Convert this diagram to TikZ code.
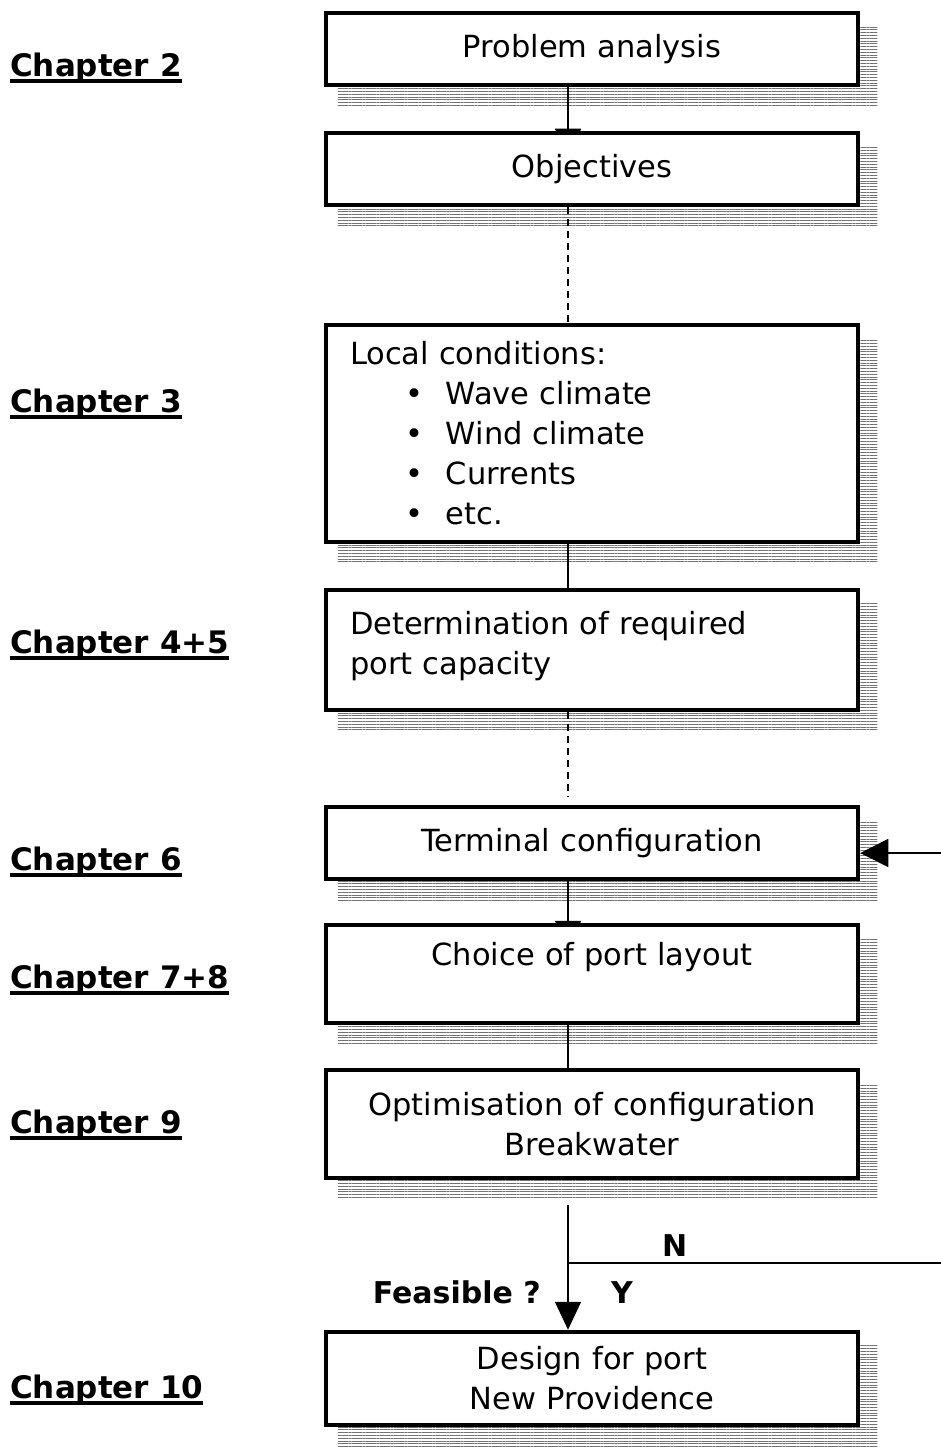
\documentclass[tikz,border=0pt]{standalone}
\usepackage{fontspec}
\setmainfont{DejaVu Sans}
\usetikzlibrary{arrows.meta,backgrounds,patterns.meta}

\tikzset{
  stagebox/.style={draw, line width=4.5pt, fill=white, minimum width=532pt,
    text width=484pt, inner xsep=24pt, inner ysep=0pt, align=center,
    font=\fontsize{30.5}{40}\selectfont},
  chapterlabel/.style={anchor=base west, inner sep=0pt,
    font=\fontsize{31}{40}\selectfont\bfseries},
  answerlabel/.style={anchor=base west, inner sep=0pt,
    font=\fontsize{30}{40}\selectfont\bfseries},
  flow/.style={line width=1.6pt},
  shadowhatch/.style={pattern={Lines[angle=0,distance=2.8pt,line width=0.9pt]},
    pattern color=black!55},
}
\newcommand\chapul[1]{\setbox0\hbox{#1}\rlap{\rule[-6.5pt]{\wd0}{4pt}}\box0}
\newcommand\boxshadow[1]{%
  \fill[shadowhatch] ([yshift=-16pt]#1.north east) rectangle ([xshift=17pt,yshift=-19pt]#1.south east);
  \fill[shadowhatch] ([xshift=14pt]#1.south west) rectangle ([yshift=-19pt]#1.south east);
}

\begin{document}
\begin{tikzpicture}[x=1pt,y=-1pt]
   \useasboundingbox (0,0) rectangle (941,1455);

% stages
   \node[stagebox, minimum height=72pt] (b1) at (592,49) {Problem analysis};
   \node[stagebox, minimum height=72pt] (b2) at (592,169) {Objectives};
   \node[stagebox, minimum height=217pt, align=left] (b3) at (592,433.5) {Local conditions:\\
      \hspace*{55pt}\makebox[41pt][l]{\textbullet}Wave climate\\
      \hspace*{55pt}\makebox[41pt][l]{\textbullet}Wind climate\\
      \hspace*{55pt}\makebox[41pt][l]{\textbullet}Currents\\
      \hspace*{55pt}\makebox[41pt][l]{\textbullet}etc.};
   \node[stagebox, minimum height=120pt, align=left] (b4) at (592,650) {Determination of required\\port capacity\\[-26pt]\mbox{}};
   \node[stagebox, minimum height=72pt] (b5) at (592,843) {Terminal configuration};
   \node[stagebox, minimum height=98pt] (b6) at (592,974) {Choice of port layout\\\mbox{}};
   \node[stagebox, minimum height=108pt] (b7) at (592,1124) {Optimisation of configuration\\Breakwater};
   \node[stagebox, minimum height=93pt] (b8) at (592,1378.5) {Design for port\\New Providence};

% chapters
   \node[chapterlabel] (c2) at (10,77) {\chapul{Chapter 2}};
   \node[chapterlabel] (c3) at (10,412) {\chapul{Chapter 3}};
   \node[chapterlabel] (c45) at (10,653) {\chapul{Chapter 4+5}};
   \node[chapterlabel] (c6) at (10,870) {\chapul{Chapter 6}};
   \node[chapterlabel] (c78) at (10,988) {\chapul{Chapter 7+8}};
   \node[chapterlabel] (c9) at (10,1133) {\chapul{Chapter 9}};
   \node[chapterlabel] (c10) at (10,1398) {\chapul{Chapter 10}};

% decision
   \coordinate (fs) at (568,1205);
   \coordinate (nb) at (568,1263);
   \coordinate (ne) at (941,1263);
   \coordinate (fe) at (941,853);
   \node[answerlabel, anchor=base east] (feas) at (541,1303) {Feasible ?};
   \node[answerlabel] (yes) at (611,1303) {Y};
   \node[answerlabel] (no) at (662,1256) {N};

   \begin{scope}[on background layer]
      \boxshadow{b1} \boxshadow{b2} \boxshadow{b3} \boxshadow{b4}
      \boxshadow{b5} \boxshadow{b6} \boxshadow{b7} \boxshadow{b8}
      \draw[flow, -{Triangle[length=28pt,width=26pt]}]
          ([xshift=-24pt]b1.south) -- ([xshift=-24pt,yshift=-26pt]b2.north);
      \draw[flow, -{Triangle[length=28pt,width=26pt]}]
          ([xshift=-24pt]b5.south) -- ([xshift=-24pt,yshift=-26pt]b6.north);
      \draw[flow, dash pattern=on 7pt off 5pt] ([xshift=-24pt]b2.south) -- ([xshift=-24pt]b3.north);
      \draw[flow] ([xshift=-24pt]b3.south) -- ([xshift=-24pt]b4.north);
      \draw[flow, dash pattern=on 7pt off 5pt] ([xshift=-24pt]b4.south) -- ([xshift=-24pt,yshift=8pt]b5.north);
      \draw[flow] ([xshift=-24pt]b6.south) -- ([xshift=-24pt]b7.north);
   \end{scope}

   \draw[flow, -{Triangle[length=28pt,width=26pt]}] (fs) -- ([xshift=-24pt]b8.north);
   \draw[flow] (nb) -- (ne);
   \draw[flow, -{Triangle[length=28pt,width=28pt]}] (fe) -- (b5.east |- fe);

\end{tikzpicture}
\end{document}
